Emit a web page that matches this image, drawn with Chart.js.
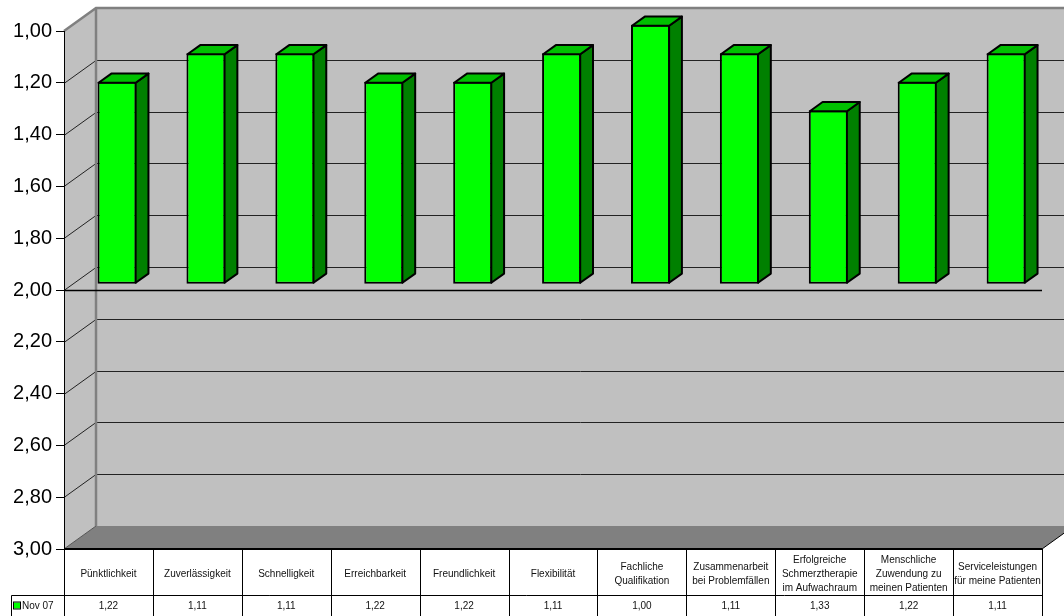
<!DOCTYPE html>
<html>
<head>
<meta charset="utf-8">
<script src="https://cdn.jsdelivr.net/npm/chart.js@4.4.1/dist/chart.umd.min.js"></script>
<style>
  html, body { margin: 0; padding: 0; background: #fff; }
  canvas { display: block; }
</style>
</head>
<body>
<canvas id="umfrageChart" width="1064" height="616"></canvas>
<script>
const categories = [
    'Pünktlichkeit', 'Zuverlässigkeit', 'Schnelligkeit', 'Erreichbarkeit', 'Freundlichkeit', 'Flexibilität',
    ['Fachliche', 'Qualifikation'],
    ['Zusammenarbeit', 'bei Problemfällen'],
    ['Erfolgreiche', 'Schmerztherapie', 'im Aufwachraum'],
    ['Menschliche', 'Zuwendung zu', 'meinen Patienten'],
    ['Serviceleistungen', 'für meine Patienten']
];
const seriesName = 'Nov 07';
const values = [1.22, 1.11, 1.11, 1.22, 1.22, 1.11, 1.00, 1.11, 1.33, 1.22, 1.11];
const yTicks = [1.00, 1.20, 1.40, 1.60, 1.80, 2.00, 2.20, 2.40, 2.60, 2.80, 3.00];
const axisCross = 2.00;

// depth of the 3d box and where the bars sit inside it
const WALL_DX = 32, WALL_DY = -23;
const BAR_FRONT = 0.27, BAR_DEPTH = 0.4;

const fmt = v => v.toFixed(2).replace('.', ',');

const box3d = {
    id: 'box3d',
    beforeDraw(chart) {
        const { ctx, chartArea: a, scales: { y } } = chart;
        const L = a.left, R = a.right, T = a.top, B = a.bottom;
        ctx.save();
        ctx.fillStyle = '#fff';
        ctx.fillRect(0, 0, chart.width, chart.height);

        // walls
        ctx.fillStyle = '#c0c0c0';
        ctx.fillRect(L + WALL_DX, T + WALL_DY, R - L, B - T);
        ctx.beginPath();
        ctx.moveTo(L, T);
        ctx.lineTo(L + WALL_DX, T + WALL_DY);
        ctx.lineTo(L + WALL_DX, B + WALL_DY);
        ctx.lineTo(L, B);
        ctx.closePath();
        ctx.fill();

        // floor
        ctx.fillStyle = '#808080';
        ctx.beginPath();
        ctx.moveTo(L, B);
        ctx.lineTo(L + WALL_DX, B + WALL_DY);
        ctx.lineTo(R + WALL_DX, B + WALL_DY);
        ctx.lineTo(R, B);
        ctx.closePath();
        ctx.fill();

        // gridlines on side and back wall
        ctx.strokeStyle = '#222';
        ctx.lineWidth = 1;
        yTicks.forEach(v => {
            if (v === y.min || v === y.max) return;
            const py = Math.round(y.getPixelForValue(v)) + 0.5;
            ctx.beginPath();
            ctx.moveTo(L, py);
            ctx.lineTo(L + WALL_DX, py + WALL_DY);
            ctx.lineTo(R + WALL_DX, py + WALL_DY);
            ctx.stroke();
        });
        // floor/side wall edge
        ctx.beginPath();
        ctx.moveTo(L, B);
        ctx.lineTo(L + WALL_DX, B + WALL_DY);
        ctx.strokeStyle = '#555';
        ctx.stroke();

        // wall borders
        ctx.strokeStyle = '#808080';
        ctx.lineWidth = 2.5;
        ctx.beginPath();
        ctx.moveTo(L, T);
        ctx.lineTo(L + WALL_DX, T + WALL_DY);
        ctx.lineTo(R + WALL_DX, T + WALL_DY);
        ctx.moveTo(L + WALL_DX, T + WALL_DY);
        ctx.lineTo(L + WALL_DX, B + WALL_DY);
        ctx.stroke();

        // category axis at the crossing value
        const cy = Math.round(y.getPixelForValue(axisCross)) + 0.5;
        ctx.strokeStyle = '#000';
        ctx.lineWidth = 1.5;
        ctx.beginPath();
        ctx.moveTo(L, cy);
        ctx.lineTo(R, cy);
        ctx.stroke();

        // front edge of floor
        ctx.lineWidth = 2;
        ctx.beginPath();
        ctx.moveTo(L, B);
        ctx.lineTo(R, B);
        ctx.stroke();
        ctx.lineWidth = 1;
        ctx.beginPath();
        ctx.moveTo(R, B);
        ctx.lineTo(R + WALL_DX, B + WALL_DY);
        ctx.stroke();
        ctx.restore();
    },
    beforeDatasetsDraw(chart) {
        chart.ctx.save();
        chart.ctx.translate(BAR_FRONT * WALL_DX, BAR_FRONT * WALL_DY);
    },
    afterDatasetsDraw(chart) {
        const ctx = chart.ctx;
        ctx.restore();
        const ox = BAR_FRONT * WALL_DX, oy = BAR_FRONT * WALL_DY;
        const bx = BAR_DEPTH * WALL_DX, by = BAR_DEPTH * WALL_DY;
        ctx.save();
        ctx.strokeStyle = '#000';
        ctx.lineWidth = 2;
        ctx.lineJoin = 'round';
        chart.getDatasetMeta(0).data.forEach(bar => {
            const p = bar.getProps(['x', 'y', 'base', 'width']);
            const left = p.x - p.width / 2 + ox, right = p.x + p.width / 2 + ox;
            const top = Math.min(p.y, p.base) + oy, bottom = Math.max(p.y, p.base) + oy;
            // side face
            ctx.fillStyle = '#008000';
            ctx.beginPath();
            ctx.moveTo(right - 1, top + 1);
            ctx.lineTo(right - 1 + bx, top + 1 + by);
            ctx.lineTo(right - 1 + bx, bottom - 1 + by);
            ctx.lineTo(right - 1, bottom - 1);
            ctx.closePath();
            ctx.fill();
            ctx.stroke();
            // top face
            ctx.fillStyle = '#00c000';
            ctx.beginPath();
            ctx.moveTo(left + 1, top + 1);
            ctx.lineTo(left + 1 + bx, top + 1 + by);
            ctx.lineTo(right - 1 + bx, top + 1 + by);
            ctx.lineTo(right - 1, top + 1);
            ctx.closePath();
            ctx.fill();
            ctx.stroke();
        });
        ctx.restore();
    },
    afterDraw(chart) {
        // data table under the plot
        const { ctx, chartArea: a, scales: { x } } = chart;
        const n = categories.length;
        const colW = (a.right - a.left) / n;
        const rowTop = Math.round(a.bottom + 46) + 0.5;
        const rowBot = chart.height + 2;
        const keyLeft = 11.5;
        ctx.save();
        ctx.strokeStyle = '#000';
        ctx.lineWidth = 1;
        ctx.beginPath();
        for (let i = 0; i <= n; i++) {
            const px = Math.round(a.left + i * colW) + 0.5;
            ctx.moveTo(px, a.bottom);
            ctx.lineTo(px, rowBot);
        }
        ctx.moveTo(keyLeft, rowTop);
        ctx.lineTo(a.right, rowTop);
        ctx.moveTo(keyLeft, rowTop);
        ctx.lineTo(keyLeft, rowBot);
        ctx.stroke();

        const midY = rowTop + 11;
        ctx.fillStyle = '#00ff00';
        ctx.fillRect(14, midY - 4, 6, 6);
        ctx.strokeRect(13.5, midY - 4.5, 7, 7);

        ctx.fillStyle = '#111';
        ctx.font = '10px "Liberation Sans", Arial, sans-serif';
        ctx.textBaseline = 'middle';
        ctx.textAlign = 'left';
        ctx.fillText(seriesName, 22, midY);
        ctx.textAlign = 'center';
        values.forEach((v, i) => {
            ctx.fillText(fmt(v), x.getPixelForValue(i), midY);
        });
        ctx.restore();
    }
};

new Chart(document.getElementById('umfrageChart'), {
    type: 'bar',
    data: {
        labels: categories,
        datasets: [{
            label: seriesName,
            data: values.map(v => [axisCross, v]),
            backgroundColor: '#00ff00',
            borderColor: '#000',
            borderWidth: 2,
            borderSkipped: false,
            categoryPercentage: 1,
            barPercentage: 0.44,
            clip: false
        }]
    },
    options: {
        responsive: false,
        animation: false,
        layout: { padding: { top: 31, right: 22, left: 0, bottom: 0 } },
        plugins: {
            legend: { display: false },
            tooltip: { enabled: false }
        },
        scales: {
            x: {
                grid: { display: false },
                border: { display: false },
                afterFit(scale) { scale.height = 67; },
                ticks: {
                    autoSkip: false,
                    maxRotation: 0,
                    minRotation: 0,
                    padding: 3,
                    crossAlign: 'center',
                    color: '#111',
                    font: { family: '"Liberation Sans", Arial, sans-serif', size: 10, lineHeight: 1.4 }
                }
            },
            y: {
                reverse: true,
                min: 1,
                max: 3,
                afterBuildTicks(scale) { scale.ticks = yTicks.map(v => ({ value: v })); },
                afterFit(scale) { scale.width = 64; },
                grid: { drawOnChartArea: false, drawTicks: true, tickLength: 8, color: '#000' },
                border: { display: true, color: '#000', width: 1 },
                ticks: {
                    padding: 4,
                    color: '#000',
                    font: { family: '"Liberation Sans", Arial, sans-serif', size: 20 },
                    callback: v => fmt(v)
                }
            }
        }
    },
    plugins: [box3d]
});
</script>
</body>
</html>
